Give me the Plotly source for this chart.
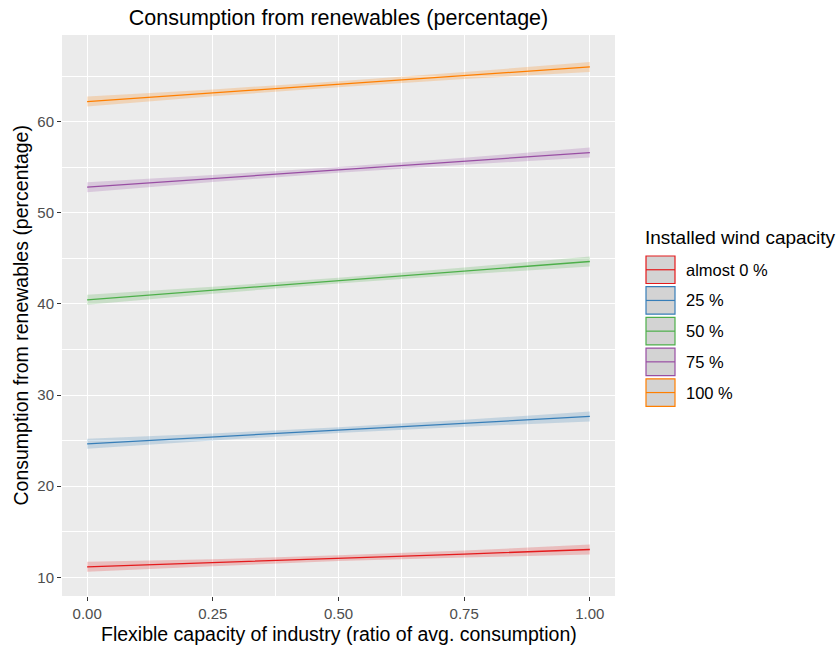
import plotly.graph_objects as go

# ---- data ----
x_vals = [0.0, 0.25, 0.5, 0.75, 1.0]
series_names = ["almost 0 %", "25 %", "50 %", "75 %", "100 %"]
series_colors = ["#E41A1C", "#377EB8", "#4DAF4A", "#984EA3", "#FF7F00"]
fill_colors = ["rgba(228,26,28,0.22)", "rgba(55,126,184,0.22)", "rgba(77,175,74,0.22)",
               "rgba(152,78,163,0.22)", "rgba(255,127,0,0.22)"]
val_almost0 = [11.15, 11.6, 12.1, 12.55, 13.05]
val_25 = [24.65, 25.4, 26.15, 26.9, 27.65]
val_50 = [40.45, 41.5, 42.55, 43.6, 44.65]
val_75 = [52.8, 53.75, 54.7, 55.65, 56.6]
val_100 = [62.2, 63.15, 64.1, 65.05, 66.0]
ci_half = [0.55, 0.38, 0.32, 0.38, 0.55]
series_values = [val_almost0, val_25, val_50, val_75, val_100]
x_ticks = [0.0, 0.25, 0.5, 0.75, 1.0]
x_tick_labels = ["0.00", "0.25", "0.50", "0.75", "1.00"]
y_ticks = [10, 20, 30, 40, 50, 60]

W, H = 838, 651
PL, PR, PT, PB = 62, 615, 35, 596          # panel edges in pixels
L, R, T, B = PL, W - PR, PT, H - PB
PW, PH = PR - PL, PB - PT

fig = go.Figure()
for name, col, fcol, vals in zip(series_names, series_colors, fill_colors, series_values):
    upper = [v + c for v, c in zip(vals, ci_half)]
    lower = [v - c for v, c in zip(vals, ci_half)]
    fig.add_trace(go.Scatter(
        x=x_vals + x_vals[::-1], y=upper + lower[::-1], fill="toself",
        fillcolor=fcol, line=dict(width=0), mode="lines", hoverinfo="skip",
        showlegend=False))
    fig.add_trace(go.Scatter(
        x=x_vals, y=vals, mode="lines", name=name,
        line=dict(color=col, width=1.3), showlegend=False))

def px(xp):
    return (xp - PL) / PW

def py(yp):
    return (PB - yp) / PH

shapes = []
annotations = []
# axis titles
annotations.append(dict(text="Flexible capacity of industry (ratio of avg. consumption)",
                        x=px((PL + PR) / 2), y=py(634), xref="paper", yref="paper",
                        xanchor="center", yanchor="middle", showarrow=False,
                        font=dict(size=19.5, color="#000000")))
annotations.append(dict(text="Consumption from renewables (percentage)",
                        x=px(20), y=py((PT + PB) / 2), xref="paper", yref="paper",
                        xanchor="center", yanchor="middle", showarrow=False, textangle=-90,
                        font=dict(size=19.5, color="#000000")))
# custom ggplot-like legend
annotations.append(dict(text="Installed wind capacity", x=px(643), y=py(238), xref="paper", yref="paper",
                        xanchor="left", yanchor="middle", showarrow=False,
                        font=dict(size=19, color="#000000")))
key_top = 256
key_step = 30.7
key_h = 27.5
for i, (name, col) in enumerate(zip(series_names, series_colors)):
    y0 = key_top + i * key_step
    shapes.append(dict(type="rect", xref="paper", yref="paper",
                       x0=px(646), x1=px(675), y0=py(y0), y1=py(y0 + key_h),
                       fillcolor="#D3D3D3", line=dict(color=col, width=1.2)))
    shapes.append(dict(type="line", xref="paper", yref="paper",
                       x0=px(646), x1=px(675), y0=py(y0 + key_h / 2), y1=py(y0 + key_h / 2),
                       line=dict(color=col, width=1.2)))
    annotations.append(dict(text=name, x=px(684), y=py(y0 + key_h / 2), xref="paper", yref="paper",
                            xanchor="left", yanchor="middle", showarrow=False,
                            font=dict(size=16.5, color="#000000")))

fig.update_layout(
    width=W, height=H,
    margin=dict(l=L, r=R, t=T, b=B),
    paper_bgcolor="white", plot_bgcolor="#EBEBEB",
    font=dict(family="Liberation Sans, Arial, sans-serif"),
    title=dict(text="Consumption from renewables (percentage)", x=(L + (PW / 2)) / W, xanchor="center",
               y=1 - 17 / H, yanchor="middle", yref="container",
               font=dict(size=21.5, color="#000000")),
    shapes=shapes, annotations=annotations,
    showlegend=False,
)
fig.update_xaxes(
    range=[-0.05, 1.05], tickvals=x_ticks, ticktext=x_tick_labels,
    showgrid=True, gridcolor="white", gridwidth=1.2, zeroline=False,
    minor=dict(dtick=0.125, tick0=0.125, showgrid=True, gridcolor="white", gridwidth=0.6),
    ticks="outside", ticklen=4, tickcolor="#333333", tickwidth=1,
    tickfont=dict(size=15, color="#4D4D4D"),
)
fig.update_yaxes(
    range=[7.95, 69.5], tickvals=y_ticks,
    showgrid=True, gridcolor="white", gridwidth=1.2, zeroline=False,
    minor=dict(dtick=10, tick0=5, showgrid=True, gridcolor="white", gridwidth=0.6),
    ticks="outside", ticklen=4, tickcolor="#333333", tickwidth=1,
    tickfont=dict(size=15, color="#4D4D4D"),
)

fig.write_html("out.html", config={"displayModeBar": False},
               post_script="document.body.style.margin='0';document.body.style.overflow='hidden';")
